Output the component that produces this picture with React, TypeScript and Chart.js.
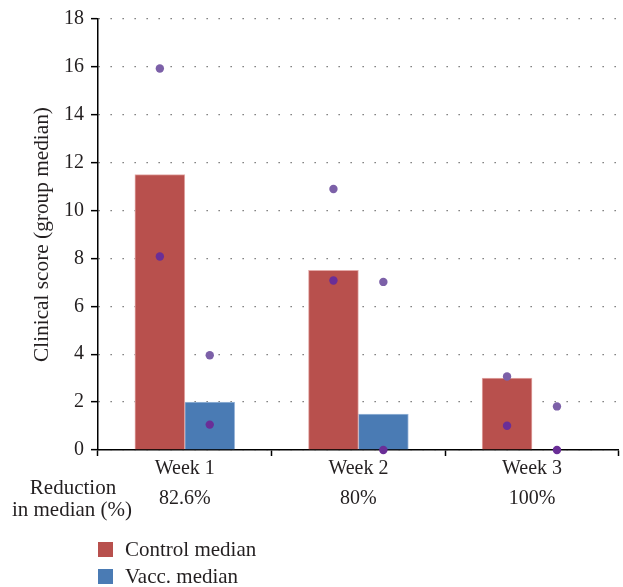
import React, { useEffect, useRef } from 'react';
import { Chart, registerables } from 'chart.js';

Chart.register(...registerables);

const categories = ['Week 1', 'Week 2', 'Week 3'];
const reductions = ['82.6%', '80%', '100%'];
const controlMedian = [11.5, 7.5, 3.0];
const vaccMedian = [2.0, 1.5, 0];
const controlUpper = [15.93, 10.9, 3.07];
const controlLower = [8.08, 7.08, 1.01];
const vaccUpper = [3.96, 7.02, 1.82];
const vaccLower = [1.06, 0, 0];
const yMax = 18;
const yStep = 2;
const reductionLabel = ['Reduction', 'in median (%)'];

const FONT = "'Liberation Serif', 'Times New Roman', serif";
const TEXT = '#231f20';
const GROUP_SHARE = 0.575; // share of each category taken by the two bars

const RED = '#b8504d';
const BLUE = '#4a7bb4';
const PURPLE_LIGHT = '#7c60a8';
const PURPLE_DARK = '#6a2e97';

export default function App() {
  const ref = useRef<HTMLCanvasElement>(null);
  useEffect(() => {
    if (!ref.current) return;
    const off = GROUP_SHARE / 4;
    const ctrlX = (i: number) => i - off;
    const vaccX = (i: number) => i + off;
    const upperPts = [
      ...controlUpper.map((v, i) => ({ x: ctrlX(i), y: v })),
      ...vaccUpper.map((v, i) => ({ x: vaccX(i), y: v })),
    ];
    const lowerPts = [
      ...controlLower.map((v, i) => ({ x: ctrlX(i), y: v })),
      ...vaccLower.map((v, i) => ({ x: vaccX(i), y: v })),
    ];

    const extras = {
      id: 'extras',
      afterDraw(chart: any) {
        const ctx = chart.ctx;
        const area = chart.chartArea;
        ctx.save();
        ctx.fillStyle = TEXT;
        ctx.font = `21px ${FONT}`;
        ctx.textAlign = 'center';
        ctx.textBaseline = 'middle';
        ctx.fillText(reductionLabel[0], 73, area.bottom + 38);
        ctx.fillText(reductionLabel[1], 72, area.bottom + 60);
        const items = [0, 1];
        items.forEach((di, k) => {
          const ds = chart.data.datasets[di];
          const top = area.bottom + 92 + k * 27;
          ctx.fillStyle = ds.backgroundColor;
          ctx.fillRect(area.left, top, 15, 15);
          ctx.fillStyle = TEXT;
          ctx.textAlign = 'left';
          ctx.fillText(ds.label, area.left + 27, top + 8);
        });
        ctx.restore();
      },
    };

    const barCommon = {
      xAxisID: 'xp',
      grouped: false,
      borderWidth: 1,
      borderSkipped: 'bottom',
      categoryPercentage: 1,
      barPercentage: 1,
      order: 2,
    };

    const chart = new Chart(ref.current, {
      type: 'bar',
      data: {
        labels: categories.map((c, i) => [c, reductions[i]]),
        datasets: [
          {
            ...barCommon,
            label: 'Control median',
            data: controlMedian.map((v, i) => ({ x: ctrlX(i), y: v })),
            backgroundColor: RED,
            borderColor: '#e3aaa8',
          } as any,
          {
            ...barCommon,
            label: 'Vacc. median',
            data: vaccMedian.map((v, i) => ({ x: vaccX(i), y: v })),
            backgroundColor: BLUE,
            borderColor: '#9db8da',
          } as any,
          {
            type: 'scatter',
            label: 'Upper',
            data: upperPts,
            xAxisID: 'xp',
            backgroundColor: PURPLE_LIGHT,
            borderWidth: 0,
            pointRadius: 4.2,
            clip: false,
            order: 0,
          } as any,
          {
            type: 'scatter',
            label: 'Lower',
            data: lowerPts,
            xAxisID: 'xp',
            backgroundColor: PURPLE_DARK,
            borderWidth: 0,
            pointRadius: 4.2,
            clip: false,
            order: 0,
          } as any,
        ],
      },
      options: {
        responsive: false,
        animation: false,
        devicePixelRatio: 1,
        layout: { padding: { top: 15, right: 3, left: 0, bottom: 60 } },
        plugins: { legend: { display: false }, tooltip: { enabled: false } },
        scales: {
          x: {
            type: 'category',
            offset: true,
            border: { display: true, color: '#000', width: 1.5 },
            grid: {
              display: true,
              offset: true,
              drawOnChartArea: false,
              drawTicks: true,
              tickLength: 6,
              tickColor: '#000',
              tickWidth: 1.5,
            },
            ticks: {
              color: TEXT,
              font: { family: FONT, size: 20, lineHeight: 1.5 },
              padding: -2,
              maxRotation: 0,
              autoSkip: false,
            },
            afterFit(scale: any) {
              scale.height = 77;
            },
          } as any,
          xp: {
            type: 'linear',
            min: -0.5,
            max: categories.length - 0.5,
            offset: false,
            display: false,
            ticks: { stepSize: 1 },
          },
          y: {
            type: 'linear',
            min: 0,
            max: yMax,
            border: { display: true, color: '#000', width: 1.5, dash: [1.3, 10.7] },
            grid: {
              display: true,
              color: '#666',
              lineWidth: 1.3,
              tickLength: 7,
              tickColor: '#000',
              tickWidth: 1.5,
              tickBorderDash: [],
            },
            ticks: {
              stepSize: yStep,
              color: TEXT,
              font: { family: FONT, size: 20 },
              padding: 7,
            },
            title: {
              display: true,
              text: 'Clinical score (group median)',
              color: TEXT,
              font: { family: FONT, size: 21.3 },
              padding: { top: 30, bottom: 0 },
            },
            afterFit(scale: any) {
              scale.width = 98;
            },
          } as any,
        },
      },
      plugins: [extras],
    });
    return () => chart.destroy();
  }, []);

  return (
    <div style={{ position: 'absolute', left: 0, top: 0, width: 623, height: 587, background: '#fff' }}>
      <canvas ref={ref} width={623} height={587} style={{ display: 'block', width: 623, height: 587 }} />
    </div>
  );
}
